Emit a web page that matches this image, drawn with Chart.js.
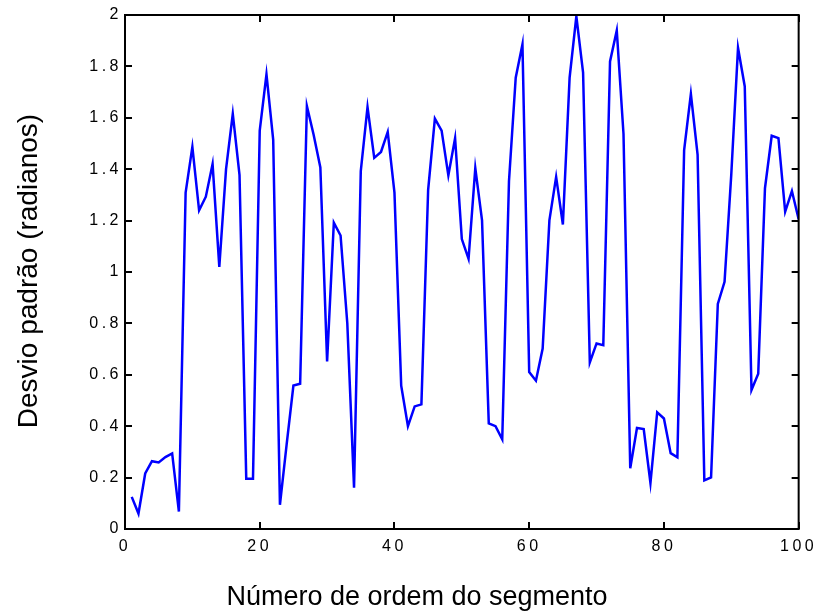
<!DOCTYPE html>
<html>
<head>
<meta charset="utf-8">
<script src="https://cdn.jsdelivr.net/npm/chart.js@4.4.0/dist/chart.umd.min.js"></script>
<style>
  html, body { margin: 0; padding: 0; background: #fff; }
</style>
</head>
<body>
<canvas id="desvio_chart" width="820" height="614"></canvas>
<script>
// standard deviation (radians) for each segment, in segment order 1..100
var DESVIO = [
  0.125, 0.06, 0.216, 0.264, 0.259, 0.28, 0.294, 0.068, 1.309, 1.487,
  1.24, 1.293, 1.42, 1.02, 1.40, 1.615, 1.377, 0.196, 0.196, 1.55,
  1.769, 1.514, 0.094, 0.33, 0.558, 0.565, 1.646, 1.534, 1.407, 0.652,
  1.192, 1.142, 0.80, 0.161, 1.393, 1.642, 1.444, 1.467, 1.545, 1.309,
  0.558, 0.40, 0.477, 0.485, 1.32, 1.597, 1.55, 1.376, 1.521, 1.128,
  1.051, 1.404, 1.201, 0.411, 0.40, 0.349, 1.353, 1.756, 1.886, 0.611,
  0.577, 0.702, 1.201, 1.370, 1.185, 1.756, 1.995, 1.776, 0.648, 0.722,
  0.715, 1.819, 1.94, 1.537, 0.236, 0.393, 0.389, 0.179, 0.454, 0.43,
  0.295, 0.279, 1.474, 1.693, 1.456, 0.189, 0.201, 0.876, 0.962, 1.38,
  1.872, 1.722, 0.541, 0.604, 1.326, 1.530, 1.521, 1.235, 1.315, 1.205
];
var SEGMENTOS = DESVIO.map(function (_, i) { return i + 1; });

var X_TICKS = [0, 20, 40, 60, 80, 100];
var Y_TICKS = [0, 0.2, 0.4, 0.6, 0.8, 1, 1.2, 1.4, 1.6, 1.8, 2];

var X_TITLE = "Número de ordem do segmento";
var Y_TITLE = "Desvio padrão (radianos)";

var FONT = '"Liberation Sans", Arial, sans-serif';
var TICK_LEN = 7;

// box round the plot, inward ticks on all four sides, and the axis titles
var frame_plugin = {
  id: 'frame_ticks',
  beforeDraw: function (chart) {
    // the tick numbers are drawn widely spaced
    chart.ctx.letterSpacing = '3.5px';
  },
  afterDraw: function (chart) {
    const ctx = chart.ctx;
    const a = chart.chartArea;
    const xs = chart.scales.x;
    const ys = chart.scales.y;
    ctx.save();
    ctx.letterSpacing = '0px';
    ctx.strokeStyle = '#000';
    ctx.lineWidth = 2;
    ctx.strokeRect(a.left, a.top, a.right - a.left, a.bottom - a.top);

    ctx.beginPath();
    for (const v of X_TICKS) {
      const px = Math.round(xs.getPixelForValue(v));
      ctx.moveTo(px, a.bottom); ctx.lineTo(px, a.bottom - TICK_LEN);
      ctx.moveTo(px, a.top); ctx.lineTo(px, a.top + TICK_LEN);
    }
    for (const v of Y_TICKS) {
      const py = Math.round(ys.getPixelForValue(v));
      ctx.moveTo(a.left, py); ctx.lineTo(a.left + TICK_LEN, py);
      ctx.moveTo(a.right, py); ctx.lineTo(a.right - TICK_LEN, py);
    }
    ctx.stroke();

    ctx.fillStyle = '#000';
    ctx.textAlign = 'center';
    ctx.textBaseline = 'alphabetic';
    ctx.font = '27px ' + FONT;
    ctx.fillText(X_TITLE, 417, 605);

    ctx.translate(37, 271);
    ctx.rotate(-Math.PI / 2);
    ctx.font = '28px ' + FONT;
    ctx.fillText(Y_TITLE, 0, 0);
    ctx.restore();
    ctx.letterSpacing = '0px';
  }
};

const ctx = document.getElementById('desvio_chart');

const chart_data = {
  datasets: [{
    data: SEGMENTOS.map(function (s, i) { return { x: s, y: DESVIO[i] }; }),
    borderColor: '#0000ff',
    borderWidth: 2.5,
    pointRadius: 0,
    tension: 0,
    fill: false
  }]
};

const options = {
  responsive: false,
  animation: false,
  layout: { padding: { top: 15, right: 20, bottom: 0, left: 0 } },
  plugins: {
    legend: { display: false },
    tooltip: { enabled: false }
  },
  scales: {
    x: {
      type: 'linear',
      min: 0,
      max: 100,
      afterBuildTicks: function (scale) {
        scale.ticks = X_TICKS.map(function (v) { return { value: v }; });
      },
      afterFit: function (scale) { scale.height = 85; },
      grid: { display: false, drawTicks: false },
      border: { display: false },
      ticks: {
        padding: 8,
        color: '#000',
        font: { family: FONT, size: 16 },
        maxRotation: 0,
        callback: function (v) { return String(v); }
      }
    },
    y: {
      type: 'linear',
      min: 0,
      max: 2,
      afterBuildTicks: function (scale) {
        scale.ticks = Y_TICKS.map(function (v) { return { value: v }; });
      },
      afterFit: function (scale) { scale.width = 125; },
      grid: { display: false, drawTicks: false },
      border: { display: false },
      ticks: {
        padding: 3,
        color: '#000',
        font: { family: FONT, size: 16 },
        callback: function (v) { return String(Number(v.toFixed(1))); }
      }
    }
  }
};

var desvio_chart = new Chart(ctx, {
  type: 'line',
  data: chart_data,
  options: options,
  plugins: [frame_plugin]
});
</script>
</body>
</html>
